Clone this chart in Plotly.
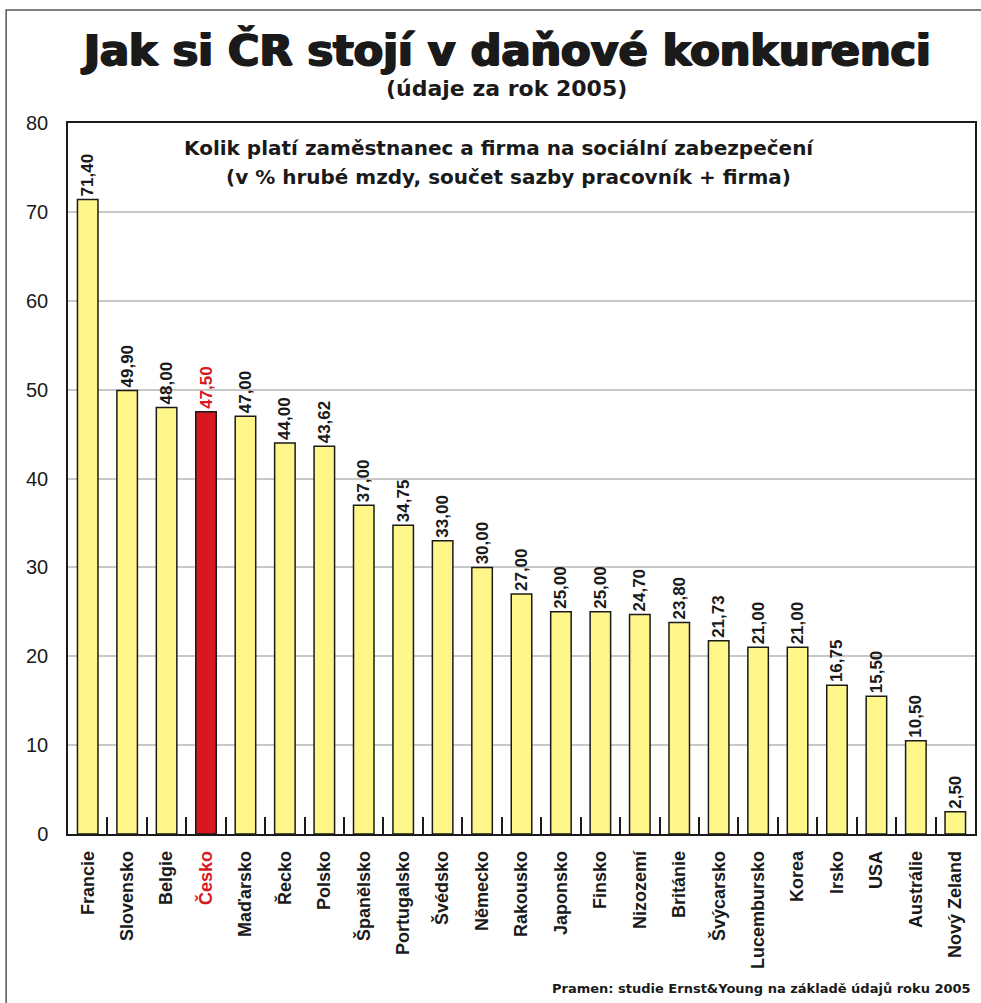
import plotly.graph_objects as go

countries = ["Francie", "Slovensko", "Belgie", "Česko", "Maďarsko", "Řecko", "Polsko",
             "Španělsko", "Portugalsko", "Švédsko", "Německo", "Rakousko", "Japonsko",
             "Finsko", "Nizozemí", "Británie", "Švýcarsko", "Lucembursko", "Korea",
             "Irsko", "USA", "Austrálie", "Nový Zeland"]
values = [71.40, 49.90, 48.00, 47.50, 47.00, 44.00, 43.62, 37.00, 34.75, 33.00, 30.00,
          27.00, 25.00, 25.00, 24.70, 23.80, 21.73, 21.00, 21.00, 16.75, 15.50, 10.50, 2.50]
highlight = "Česko"
y_ticks = [0, 10, 20, 30, 40, 50, 60, 70, 80]

YELLOW = "#FFF68A"
RED = "#D7191F"
INK = "#1a1a1a"

bar_colors = [RED if c == highlight else YELLOW for c in countries]
labels = []
label_colors = []
for c, v in zip(countries, values):
    s = f"{v:.2f}".replace(".", ",")
    labels.append(f"<b>{s}</b>")
    label_colors.append(RED if c == highlight else INK)

tick_text = [f"<span style='color:{RED}'><b>{c}</b></span>" if c == highlight else c for c in countries]

fig = go.Figure(go.Bar(
    x=countries, y=values,
    marker=dict(color=bar_colors, line=dict(color=INK, width=1.5)),
    text=labels, textposition="outside", textangle=-90, constraintext="none",
    textfont=dict(family="Liberation Sans Narrow, Liberation Sans, Arial", size=17, color=label_colors),
    cliponaxis=False,
))

W, H = 981, 1003
L, R, T, B = 68, 977, 123, 834

def px(x):
    return (x - L) / (R - L)

def py(y):
    return (B - y) / (B - T)

WIDE = "DejaVu Sans, Liberation Sans, Arial"

fig.update_layout(
    width=W, height=H,
    margin=dict(l=L, r=W - R, t=T, b=H - B),
    paper_bgcolor="white", plot_bgcolor="white",
    bargap=0.48,
    showlegend=False,
    font=dict(family="Liberation Sans, Arial", color=INK),
    xaxis=dict(
        tickmode="array", tickvals=countries, ticktext=tick_text,
        tickangle=-90, tickson="boundaries", ticks="inside", ticklen=17,
        tickcolor=INK, tickwidth=1.5,
        tickfont=dict(family="Liberation Sans Narrow, Liberation Sans, Arial", size=18, color=INK, weight="bold"),
        showline=True, linecolor=INK, linewidth=1.5, mirror=True,
        showgrid=False, ticklabelstandoff=8,
    ),
    yaxis=dict(
        range=[0, 80], tickvals=y_ticks,
        tickfont=dict(family="Liberation Sans, Arial", size=20, color=INK),
        showgrid=True, gridcolor="#c8c8c8", gridwidth=1.5,
        showline=True, linecolor=INK, linewidth=1.5, mirror=True,
        zeroline=False, ticks="", ticklabelstandoff=14,
    ),
    shapes=[dict(type="rect", xref="paper", yref="paper",
                 x0=px(6), x1=px(1000), y0=py(1020), y1=py(10),
                 line=dict(color="#555555", width=1.5), layer="below")],
    annotations=[
        dict(text="Jak si ČR stojí v daňové konkurenci", xref="paper", yref="paper",
             x=px(507), y=py(50), xanchor="center", yanchor="middle", showarrow=False,
             font=dict(family=WIDE, size=43, color=INK, weight="bold",
                       shadow="1.2px 0 0 #1a1a1a, -1.2px 0 0 #1a1a1a, 0 0.6px 0 #1a1a1a")),
        dict(text="(údaje za rok 2005)", xref="paper", yref="paper",
             x=px(507), y=py(88), xanchor="center", yanchor="middle", showarrow=False,
             font=dict(family=WIDE, size=22, color=INK, weight="bold")),
        dict(text="Kolik platí zaměstnanec a firma na sociální zabezpečení", xref="paper", yref="paper",
             x=px(500), y=py(148), xanchor="center", yanchor="middle", showarrow=False,
             font=dict(family=WIDE, size=20, color=INK, weight="bold")),
        dict(text="(v % hrubé mzdy, součet sazby pracovník + firma)", xref="paper", yref="paper",
             x=px(509), y=py(177), xanchor="center", yanchor="middle", showarrow=False,
             font=dict(family=WIDE, size=20, color=INK, weight="bold")),
        dict(text="Pramen: studie Ernst&Young na základě údajů roku 2005", xref="paper", yref="paper",
             x=px(975), y=py(988), xanchor="right", yanchor="middle", showarrow=False,
             font=dict(family=WIDE, size=13, color=INK, weight="bold")),
    ],
)

fig.write_html("out.html", config={"displayModeBar": False},
               post_script="document.body.style.margin='0';document.body.style.overflow='hidden';")
